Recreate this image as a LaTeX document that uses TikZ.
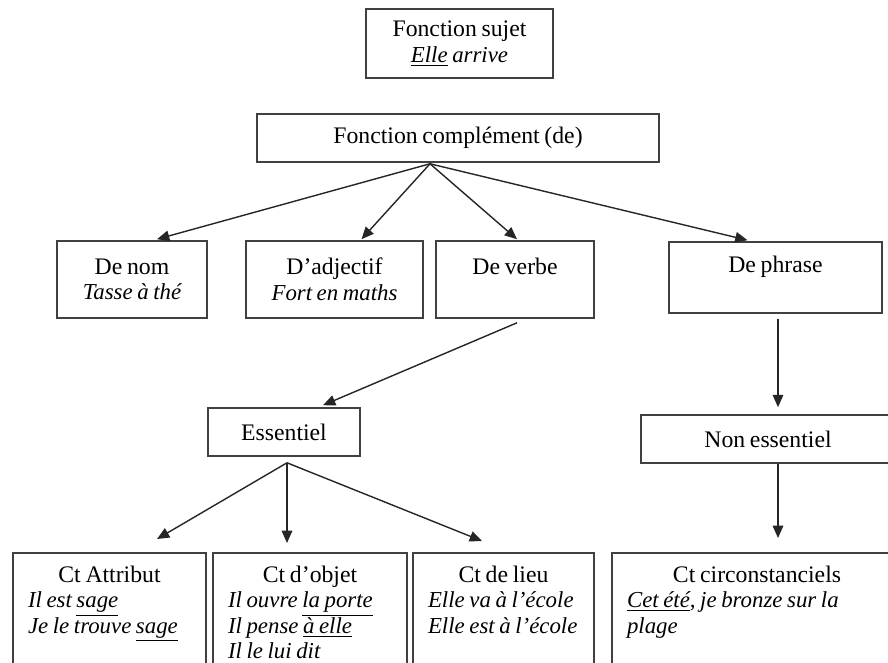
\documentclass[tikz,border=0pt]{standalone}
\usepackage{fontspec}
\setmainfont{Liberation Serif}[WordSpace=0.8]
\usetikzlibrary{arrows.meta,calc}

\newcommand{\exemple}[1]{\mbox{\spaceskip=0pt \fontsize{13}{14.5}\selectfont\itshape #1}}
\newcommand{\titre}[1]{\makebox[\linewidth]{\spaceskip=0pt #1}}

\begin{document}
\begin{tikzpicture}[
     x = 0.02cm, y = -0.02cm,
     font = \fontsize{13.5}{14.5}\selectfont,
     boite/.style = {draw = black!75, line width = 0.9pt, align = center, inner sep = 0pt},
     bas/.style = {boite, anchor = north, align = left, inner xsep = 0.3cm,
                   inner ysep = 0.26cm, text depth = 2.6cm},
%      fleche/.style = {->},
     fleche/.style = {-{Triangle[length = 7pt, width = 6pt]}, line width = 0.8pt, black!85}
    ]

    \useasboundingbox (0,0) rectangle (888,662);
    \clip (0,0) rectangle (888,662);

    \node [boite, minimum width = 3.74cm, minimum height = 1.38cm] (Sujet) at (459.5,43.5)
      {Fonction sujet\\\exemple{\underline{Elle} arrive}};
    \node [boite, minimum width = 8.04cm, minimum height = 0.96cm] (Compl) at (458,138)
      {Fonction complément (de)};
    \coordinate (Depart) at ($(Compl.south)+(-28,1)$);

    \node [boite, minimum width = 3cm, minimum height = 1.54cm] (Nom) at (132,279.5)
      {De nom\\\exemple{Tasse à thé}};
    \node [boite, minimum width = 3.54cm, minimum height = 1.54cm] (Adjectif) at (334.5,279.5)
      {D’adjectif\\\exemple{Fort en maths}};
    \node [boite, minimum width = 3.16cm, minimum height = 1.54cm] (Verbe) at (515,279.5)
      {De verbe\\\mbox{}};
    \node [boite, minimum width = 4.26cm, minimum height = 1.42cm] (Phrase) at (775.5,277.5)
      {De phrase\\\mbox{}};

    \node [boite, minimum width = 3.04cm, minimum height = 0.96cm] (Essentiel) at (284,432)
      {Essentiel};
    \node [boite, minimum width = 5.08cm, minimum height = 0.96cm] (NonEss) at (768,439)
      {Non essentiel};

    \node [bas, text width = 3.26cm] (Attribut) at (109.5,552)
      {\titre{Ct Attribut}\\
       \exemple{Il est \underline{sage}}\\
       \exemple{Je le trouve \underline{sage}}};
    \node [bas, text width = 3.28cm] (Objet) at (310,552)
      {\titre{Ct d’objet}\\
       \exemple{Il ouvre \underline{la porte}}\\
       \exemple{Il pense \underline{à elle}}\\
       \exemple{Il le lui dit}};
    \node [bas, text width = 3.02cm] (Lieu) at (503.5,552)
      {\titre{Ct de lieu}\\
       \exemple{Elle va à l’école}\\
       \exemple{Elle est à l’école}};
    \node [bas, text width = 5.2cm] (Circ) at (757,552)
      {\titre{Ct circonstanciels}\\
       \exemple{\underline{Cet été}, je bronze sur la}\\
       \exemple{plage}};

    \draw [fleche] (Depart) -- ($(Nom.north)+(25,-1)$);
    \draw [fleche] (Depart) -- ($(Adjectif.north)+(27,-1)$);
    \draw [fleche] (Depart) -- ($(Verbe.north)+(2,-1)$);
    \draw [fleche] (Depart) -- ($(Phrase.north)+(-28,-1)$);

    \draw [fleche] ($(Verbe.south)+(2,4)$) -- ($(Essentiel.north)+(39,-2)$);
    \draw [fleche] ($(Phrase.south)+(2.5,5)$) -- ($(Phrase.south |- NonEss.north)+(2.5,-7)$);
    \draw [fleche] ($(Phrase.south |- NonEss.south)+(2.5,0)$) -- ($(Phrase.south |- Circ.north)+(2.5,-14)$);

    \draw [fleche] ($(Essentiel.south)+(3,6)$) -- ($(Attribut.north)+(47.5,-13)$);
    \draw [fleche] ($(Essentiel.south)+(3,6)$) -- ($(Objet.north)+(-23,-9)$);
    \draw [fleche] ($(Essentiel.south)+(3,6)$) -- ($(Lieu.north)+(-21.5,-11)$);

\end{tikzpicture}
\end{document}
